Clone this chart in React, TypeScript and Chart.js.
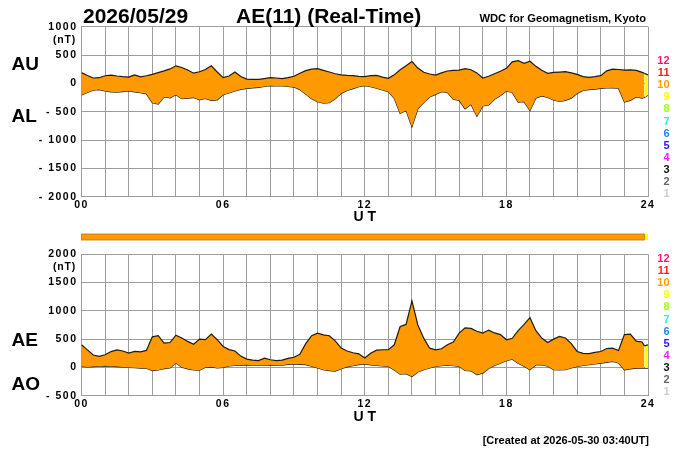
import React, { useEffect, useRef } from 'react';
import { Chart, registerables } from 'chart.js';

Chart.register(...registerables);

// ---- time axis (hours UT) ----
const HOURS: number[] = [...Array.from({ length: 96 }, (_, i) => i / 4), 23.85, 24];

// ---- AU / AL (nT) ----
const AU = [
  190, 140, 95, 100, 135, 147, 130, 118, 112, 150, 115, 135,
  160, 190, 220, 255, 310, 280, 235, 180, 205, 245, 310, 200,
  100, 130, 200, 120, 76, 72, 70, 85, 100, 95, 85, 100,
  125, 180, 225, 250, 260, 228, 200, 170, 150, 140, 135, 125,
  118, 135, 140, 110, 88, 150, 240, 310, 385, 270, 195, 165,
  147, 185, 218, 228, 235, 260, 240, 185, 95, 125, 170, 215,
  265, 380, 400, 355, 390, 300, 230, 176, 194, 200, 206, 185,
  159, 120, 105, 118, 135, 220, 250, 245, 235, 238, 230, 195,
  176, 150,
];
const AL = [
  -206, -160, -120, -110, -135, -150, -155, -145, -135, -150, -165, -185,
  -340, -365, -240, -255, -200, -270, -260, -250, -290, -265, -300, -290,
  -200, -170, -135, -105, -88, -78, -70, -55, -41, -45, -45, -55,
  -65, -110, -190, -270, -324, -350, -340, -270, -176, -125, -92, -60,
  -41, -60, -85, -115, -147, -265, -530, -480, -765, -450, -340, -240,
  -194, -147, -159, -280, -300, -450, -370, -580, -400, -380, -280, -215,
  -135, -160, -330, -323, -480, -260, -220, -250, -294, -320, -300, -260,
  -176, -125, -110, -100, -88, -82, -78, -85, -330, -300, -240, -260,
  -250, -206,
];

// ---- AE / AO (nT) ----
const AE = [
  400, 310, 220, 195, 223, 280, 310, 290, 253, 282, 275, 300,
  540, 560, 430, 440, 570, 520, 460, 410, 500, 490, 588, 490,
  370, 315, 290, 200, 147, 130, 120, 165, 135, 120, 130, 160,
  180, 230, 420, 560, 606, 576, 560, 470, 341, 290, 260, 240,
  165, 250, 305, 312, 312, 400, 723, 760, 1176, 750, 517, 340,
  312, 330, 400, 450, 606, 700, 690, 640, 606, 660, 610, 580,
  488, 515, 650, 760, 880, 650, 520, 440, 500, 547, 520, 420,
  282, 250, 245, 265, 282, 335, 341, 300, 580, 590, 465, 450,
  380, 400,
];
const AO = [
  18, 8, 15, 22, 29, 22, 15, 8, 0, -5, -12, -15,
  -55, -45, -20, -10, 80, 5, -25, -45, -50, 5, 10, -10,
  0, 25, 35, 42, 45, 40, 35, 35, 45, 35, 40, 55,
  62, 55, 50, 20, -10, -40, -55, -65, -23, 10, 30, 50,
  62, 45, 35, 25, 18, -45, -120, -110, -160, -80, -40, -10,
  18, 30, 40, 30, 18, -55, -60, -125, -100, -20, 35, 75,
  118, 145, 75, 20, -40, 45, 47, 20, -41, -45, -40, -10,
  18, 35, 48, 62, 76, 90, 105, 80, -41, -25, -12, -12,
  -12, -12,
];

// ---- number of contributing stations ----
const STATION_RUNS = [
  { start: 0, end: 23.85, count: 10 },
  { start: 23.85, end: 24, count: 9 },
];
const LEGEND_COUNTS = [12, 11, 10, 9, 8, 7, 6, 5, 4, 3, 2, 1];
const LEGEND_COLORS = [
  '#ff1a70', '#ff2020', '#ff9900', '#ffff00', '#99ff1a', '#1affd9',
  '#1a88ff', '#2a10ff', '#ff1aff', '#111111', '#666666', '#cccccc',
];

// ---- ticks ----
const X_TICK_VALUES = [0, 6, 12, 18, 24];
const X_TICK_LABELS = ['00', '06', '12', '18', '24'];
const TOP_Y_VALUES = [1000, 500, 0, -500, -1000, -1500, -2000];
const TOP_Y_LABELS = ['1000', '500', '0', '- 500', '- 1000', '- 1500', '- 2000'];
const BOT_Y_VALUES = [2000, 1500, 1000, 500, 0, -500];
const BOT_Y_LABELS = ['2000', '1500', '1000', '500', '0', '- 500'];

// ---- text ----
const DATE_TEXT = '2026/05/29';
const TITLE_TEXT = 'AE(11) (Real-Time)';
const SOURCE_TEXT = 'WDC for Geomagnetism, Kyoto';
const CREATED_TEXT = '[Created at 2026-05-30 03:40UT]';

const FONT = '"Liberation Sans", Arial, Helvetica, sans-serif';
const GRID = '#9c9c9c';
const LINE = '#1e1a14';

function colorForCount(n: number): string {
  const i = LEGEND_COUNTS.indexOf(n);
  return i >= 0 ? LEGEND_COLORS[i] : '#ff9900';
}
function countAt(x: number): number {
  for (const r of STATION_RUNS) if (x >= r.start && x < r.end) return r.count;
  return STATION_RUNS[STATION_RUNS.length - 1].count;
}

function text(
  ctx: CanvasRenderingContext2D, s: string, x: number, y: number,
  size: number, align: CanvasTextAlign = 'left', baseline: CanvasTextBaseline = 'alphabetic',
  color = '#000', spacing = '0px',
) {
  ctx.save();
  (ctx as any).letterSpacing = spacing;
  ctx.font = `bold ${size}px ${FONT}`;
  ctx.fillStyle = color;
  ctx.textAlign = align;
  ctx.textBaseline = baseline;
  ctx.fillText(s, x, y);
  ctx.restore();
}

const tickSpacingPlugin = {
  id: 'tickSpacing',
  beforeDraw(chart: any) { chart.ctx.letterSpacing = '1.5px'; },
  beforeDatasetsDraw(chart: any) { chart.ctx.letterSpacing = '0px'; },
};

function drawLegend(ctx: CanvasRenderingContext2D, y0: number) {
  LEGEND_COUNTS.forEach((n, i) => {
    text(ctx, String(n), 669.5, y0 + i * 12.1, 11, 'right', 'middle', LEGEND_COLORS[i]);
  });
}

function makeConfig(opts: {
  upper: number[]; lower: number[]; min: number; max: number;
  yValues: number[]; yLabels: string[]; padTop: number; padBottom: number;
  extras: (chart: any) => void;
}): any {
  const tickFont = { family: FONT, size: 10.5, weight: 'bold' as const };
  const seg = { backgroundColor: (c: any) => colorForCount(countAt(c.p0.parsed.x)) };
  return {
    type: 'line',
    data: {
      datasets: [
        {
          data: HOURS.map((h, i) => ({ x: h, y: opts.upper[i] })),
          borderColor: LINE, borderWidth: 1.2, pointRadius: 0, tension: 0,
          fill: '+1', backgroundColor: '#ff9900', segment: seg,
        },
        {
          data: HOURS.map((h, i) => ({ x: h, y: opts.lower[i] })),
          borderColor: LINE, borderWidth: 1.2, pointRadius: 0, tension: 0, fill: false,
        },
      ],
    },
    options: {
      animation: false,
      responsive: false,
      events: [],
      layout: { padding: { left: 0, right: 52, top: opts.padTop, bottom: opts.padBottom } },
      plugins: { legend: { display: false }, tooltip: { enabled: false } },
      scales: {
        x: {
          type: 'linear', min: 0, max: 24,
          afterFit: (s: any) => { s.height = 30; },
          grid: { color: GRID, lineWidth: 1, drawTicks: false },
          border: { color: GRID },
          ticks: {
            stepSize: 1, autoSkip: false, maxRotation: 0, minRotation: 0, padding: 2,
            font: tickFont, color: '#000',
            callback: (v: number) => {
              const i = X_TICK_VALUES.indexOf(Number(v));
              return i >= 0 ? X_TICK_LABELS[i] : '';
            },
          },
        },
        y: {
          type: 'linear', min: opts.min, max: opts.max,
          afterFit: (s: any) => { s.width = 81.5; },
          grid: { color: GRID, lineWidth: 1, drawTicks: false },
          border: { color: GRID },
          ticks: {
            stepSize: 500, padding: 4, font: tickFont, color: '#000',
            callback: (v: number) => {
              const i = opts.yValues.indexOf(Number(v));
              return i >= 0 ? opts.yLabels[i] : '';
            },
          },
        },
      },
    },
    plugins: [
      tickSpacingPlugin,
      { id: 'extras', afterDraw: (chart: any) => opts.extras(chart) },
    ],
  };
}

export default function App() {
  const topRef = useRef<HTMLCanvasElement>(null);
  const botRef = useRef<HTMLCanvasElement>(null);

  useEffect(() => {
    const top = new Chart(topRef.current as HTMLCanvasElement, makeConfig({
      upper: AU, lower: AL, min: -2000, max: 1000,
      yValues: TOP_Y_VALUES, yLabels: TOP_Y_LABELS, padTop: 26.7, padBottom: 1.3,
      extras: (chart) => {
        const ctx = chart.ctx as CanvasRenderingContext2D;
        const a = chart.chartArea;
        text(ctx, DATE_TEXT, 83, 22.6, 21);
        text(ctx, TITLE_TEXT, 236, 22.6, 21);
        text(ctx, SOURCE_TEXT, 646, 21.7, 11.2, 'right');
        text(ctx, '(nT)', 76, 43, 10.5, 'right', 'alphabetic', '#000', '0.8px');
        text(ctx, 'AU', 11.5, 69.5, 19);
        text(ctx, 'AL', 11.5, 121.7, 19);
        text(ctx, 'U T', (a.left + a.right) / 2, a.bottom + 24.2, 14, 'center');
        drawLegend(ctx, 61);
      },
    }));

    const bot = new Chart(botRef.current as HTMLCanvasElement, makeConfig({
      upper: AE, lower: AO, min: -500, max: 2000,
      yValues: BOT_Y_VALUES, yLabels: BOT_Y_LABELS, padTop: 26.3, padBottom: 24.3,
      extras: (chart) => {
        const ctx = chart.ctx as CanvasRenderingContext2D;
        const a = chart.chartArea;
        const xs = chart.scales.x;
        // station-count status bar
        const barTop = a.top - 20.3;
        for (const r of STATION_RUNS) {
          const x0 = xs.getPixelForValue(r.start);
          const x1 = xs.getPixelForValue(r.end);
          ctx.fillStyle = colorForCount(r.count);
          ctx.fillRect(x0, barTop, x1 - x0, 6);
        }
        ctx.save();
        ctx.strokeStyle = '#c27400';
        ctx.lineWidth = 0.8;
        const bx0 = xs.getPixelForValue(0);
        const bx1 = xs.getPixelForValue(STATION_RUNS[0].end);
        ctx.strokeRect(bx0, barTop, bx1 - bx0, 6);
        ctx.restore();

        text(ctx, '(nT)', 76, 42, 10.5, 'right', 'alphabetic', '#000', '0.8px');
        text(ctx, 'AE', 11.5, 118, 19);
        text(ctx, 'AO', 11.5, 162, 19);
        text(ctx, 'U T', (a.left + a.right) / 2, a.bottom + 25.5, 14, 'center');
        text(ctx, CREATED_TEXT, 649, 216.3, 11, 'right');
        drawLegend(ctx, 31);
      },
    }));

    return () => { top.destroy(); bot.destroy(); };
  }, []);

  return (
    <div style={{ position: 'absolute', left: 0, top: 0, width: 700, height: 450, background: '#fff' }}>
      <canvas ref={topRef} width={700} height={228}
        style={{ position: 'absolute', left: 0, top: 0, width: 700, height: 228 }} />
      <canvas ref={botRef} width={700} height={222}
        style={{ position: 'absolute', left: 0, top: 228, width: 700, height: 222 }} />
    </div>
  );
}
